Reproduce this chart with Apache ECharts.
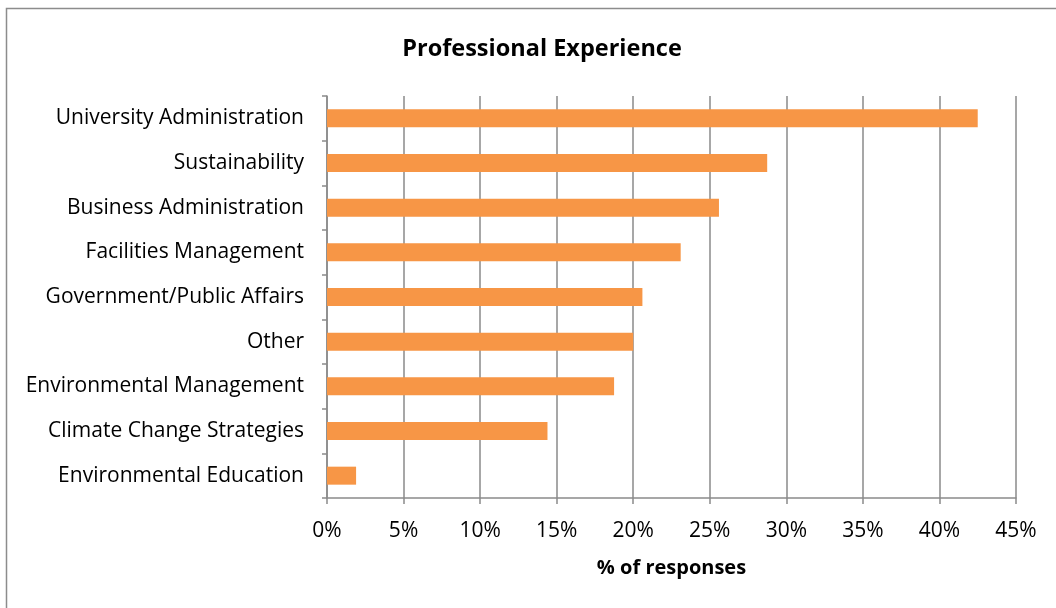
<!DOCTYPE html>
<html>
<head>
<meta charset="utf-8">
<script src="https://cdn.jsdelivr.net/npm/echarts@6/dist/echarts.min.js"></script>
<style>
  html, body { margin: 0; padding: 0; background: #fff; }
  #chart { width: 1056px; height: 608px; }
</style>
</head>
<body>
<div id="chart"></div>
<script>
// Share of respondents by professional background
const categories = [
  'University Administration',
  'Sustainability',
  'Business Administration',
  'Facilities Management',
  'Government/Public Affairs',
  'Other',
  'Environmental Management',
  'Climate Change Strategies',
  'Environmental Education'
];
const shares = [42.5, 28.75, 25.6, 23.1, 20.6, 20.0, 18.75, 14.4, 1.9];
const xTicks = { min: 0, max: 45, step: 5 };

const FONT = '"Open Sans"';
const GRID_GRAY = '#8a8a8a';

const chart = echarts.init(document.getElementById('chart'), null, { renderer: 'canvas' });

chart.setOption({
  backgroundColor: '#ffffff',
  animation: false,
  graphic: [{
    type: 'rect',
    shape: { x: 6.5, y: 8.5, width: 1060, height: 620 },
    style: { fill: 'none', stroke: '#8c8c8c', lineWidth: 1.5 },
    silent: true
  }],
  title: {
    text: 'Professional Experience',
    left: 537,
    top: 32,
    textAlign: 'center',
    textStyle: { fontFamily: FONT, fontWeight: 'bold', fontSize: 23.5, color: '#000' }
  },
  grid: { left: 327, right: 40, top: 96, bottom: 110, containLabel: false },
  xAxis: {
    type: 'value',
    min: xTicks.min,
    max: xTicks.max,
    interval: xTicks.step,
    name: '% of responses',
    nameLocation: 'middle',
    nameGap: 60,
    nameTextStyle: { fontFamily: FONT, fontWeight: 'bold', fontSize: 20, color: '#000' },
    axisLine: { show: true, lineStyle: { color: GRID_GRAY, width: 1.5 } },
    axisTick: { show: true, length: 6, lineStyle: { color: GRID_GRAY, width: 1.5 } },
    axisLabel: {
      formatter: '{value}%',
      margin: 23,
      fontFamily: FONT, fontSize: 21, color: '#000'
    },
    splitLine: { show: true, lineStyle: { color: GRID_GRAY, width: 1.5 } }
  },
  yAxis: {
    type: 'category',
    data: categories,
    inverse: true,
    axisLine: { show: true, lineStyle: { color: GRID_GRAY, width: 1.5 } },
    axisTick: { show: true, length: 5, lineStyle: { color: GRID_GRAY, width: 1.5 } },
    axisLabel: {
      margin: 23,
      padding: [3, 0, 0, 0],
      fontFamily: FONT, fontSize: 21, color: '#000'
    },
    splitLine: { show: false }
  },
  series: [{
    type: 'bar',
    data: shares,
    barWidth: 18,
    itemStyle: { color: '#F79646' },
    label: { show: false }
  }]
});
</script>
</body>
</html>
